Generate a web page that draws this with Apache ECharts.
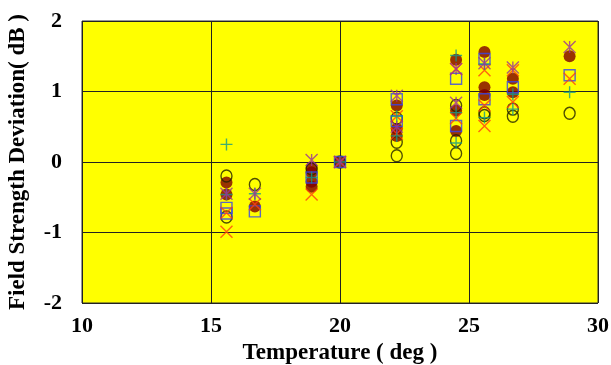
<!DOCTYPE html>
<html>
<head>
<meta charset="utf-8">
<script src="https://cdn.jsdelivr.net/npm/echarts@6/dist/echarts.min.js"></script>
<style>
  html, body { margin: 0; padding: 0; background: #fff; }
  #chart { width: 611px; height: 365px; }
</style>
</head>
<body>
<div id="chart"></div>
<script>
  // measured points [temperature, deviation dB], one list per marker type
  var openCircle = [
    [15.6, -0.2], [15.6, -0.78], [16.7, -0.32], [18.9, -0.1], [20, 0],
    [22.2, 0.09], [22.2, 0.28], [22.2, 0.62], [24.5, 0.12], [24.5, 0.3], [24.5, 0.8],
    [25.6, 0.66], [25.6, 0.7], [26.7, 0.65], [26.7, 0.75], [28.9, 0.69]
  ]
  var filledCircle = [
    [15.6, -0.29], [15.6, -0.46], [16.7, -0.63],
    [18.9, -0.08], [18.9, -0.15], [18.9, -0.28], [18.9, -0.35], [20, 0],
    [22.2, 0.8], [22.2, 0.47], [22.2, 0.37], [24.5, 1.45], [24.5, 0.73], [24.5, 0.44],
    [25.6, 1.56], [25.6, 1.06], [25.6, 0.95], [26.7, 1.18], [26.7, 0.99], [28.9, 1.5]
  ]
  var openSquare = [
    [15.6, -0.65], [15.6, -0.73], [16.7, -0.7], [18.9, -0.22], [20, 0],
    [22.2, 0.89], [22.2, 0.58], [24.5, 1.18], [24.5, 0.51],
    [25.6, 1.46], [25.6, 0.89], [26.7, 1.06], [28.9, 1.23]
  ]
  var crossX = [
    [15.6, -0.72], [15.6, -0.99], [16.7, -0.6], [18.9, -0.46], [20, 0],
    [22.2, 0.65], [22.2, 0.4], [24.5, 1.32], [24.5, 0.62],
    [25.6, 1.3], [25.6, 0.8], [25.6, 0.51], [26.7, 1.3], [26.7, 0.85], [28.9, 1.18]
  ]
  var plusMark = [
    [15.6, 0.25], [15.6, -0.46], [16.7, -0.45], [18.9, -0.22], [20, 0],
    [22.2, 0.37], [22.2, 0.65], [24.5, 1.51], [24.5, 0.7], [24.5, 0.27],
    [25.6, 1.39], [25.6, 0.63], [26.7, 0.96], [26.7, 0.75], [28.9, 0.99]
  ]
  var starMark = [
    [15.6, -0.45], [16.7, -0.45], [18.9, 0.03], [20, 0],
    [22.2, 0.94], [22.2, 0.5], [24.5, 1.32], [24.5, 0.84],
    [25.6, 1.4], [26.7, 1.34], [28.9, 1.63]
  ]

  var font = 'Liberation Serif'

  function lineSeries(data, path, color) {
    return {
      type: 'scatter',
      data: data,
      symbol: path,
      symbolSize: 12,
      itemStyle: { color: 'rgba(0,0,0,0)', borderColor: color, borderWidth: 1.4 }
    }
  }

  var chart = echarts.init(document.getElementById('chart'))
  chart.setOption({
    animation: false,
    grid: {
      left: 82, right: 13, top: 21, bottom: 62,
      outerBoundsMode: 'none',
      containLabel: false,
      show: true,
      backgroundColor: '#ffff00',
      borderColor: '#333',
      borderWidth: 1
    },
    xAxis: {
      type: 'value',
      min: 10, max: 30, interval: 5,
      name: 'Temperature ( deg )',
      nameLocation: 'middle',
      nameGap: 38,
      nameTextStyle: { fontFamily: font, fontWeight: 'bold', fontSize: 23, color: '#000' },
      axisLine: { show: false },
      axisTick: { show: false },
      axisLabel: { fontFamily: font, fontWeight: 'bold', fontSize: 22, color: '#000', margin: 12 },
      splitLine: { lineStyle: { color: '#222', width: 1 } }
    },
    yAxis: {
      type: 'value',
      min: -2, max: 2, interval: 1,
      name: 'Field Strength Deviation( dB )',
      nameLocation: 'middle',
      nameGap: 52,
      nameTextStyle: { fontFamily: font, fontWeight: 'bold', fontSize: 23, color: '#000' },
      axisLine: { show: false },
      axisTick: { show: false },
      axisLabel: { fontFamily: font, fontWeight: 'bold', fontSize: 22, color: '#000', margin: 20 },
      splitLine: { lineStyle: { color: '#222', width: 1 } }
    },
    series: [
      {
        type: 'scatter',
        data: filledCircle,
        symbol: 'circle',
        symbolSize: 12,
        itemStyle: { color: '#800000' }
      },
      {
        type: 'scatter',
        data: openCircle,
        symbol: 'circle',
        symbolSize: [11, 12],
        itemStyle: { color: 'rgba(0,0,0,0)', borderColor: '#222200', borderWidth: 1.4 }
      },
      {
        type: 'scatter',
        data: openSquare,
        symbol: 'rect',
        symbolSize: 11,
        itemStyle: { color: 'rgba(0,0,0,0)', borderColor: '#3344ee', borderWidth: 1.4 }
      },
      lineSeries(crossX, 'path://M0,0L10,10M10,0L0,10', '#ff4010'),
      lineSeries(plusMark, 'path://M5,0L5,10M0,5L10,5', '#12998a'),
      lineSeries(starMark, 'path://M0,0L10,10M10,0L0,10M5,0L5,10', '#9a3399')
    ]
  })
</script>
</body>
</html>
